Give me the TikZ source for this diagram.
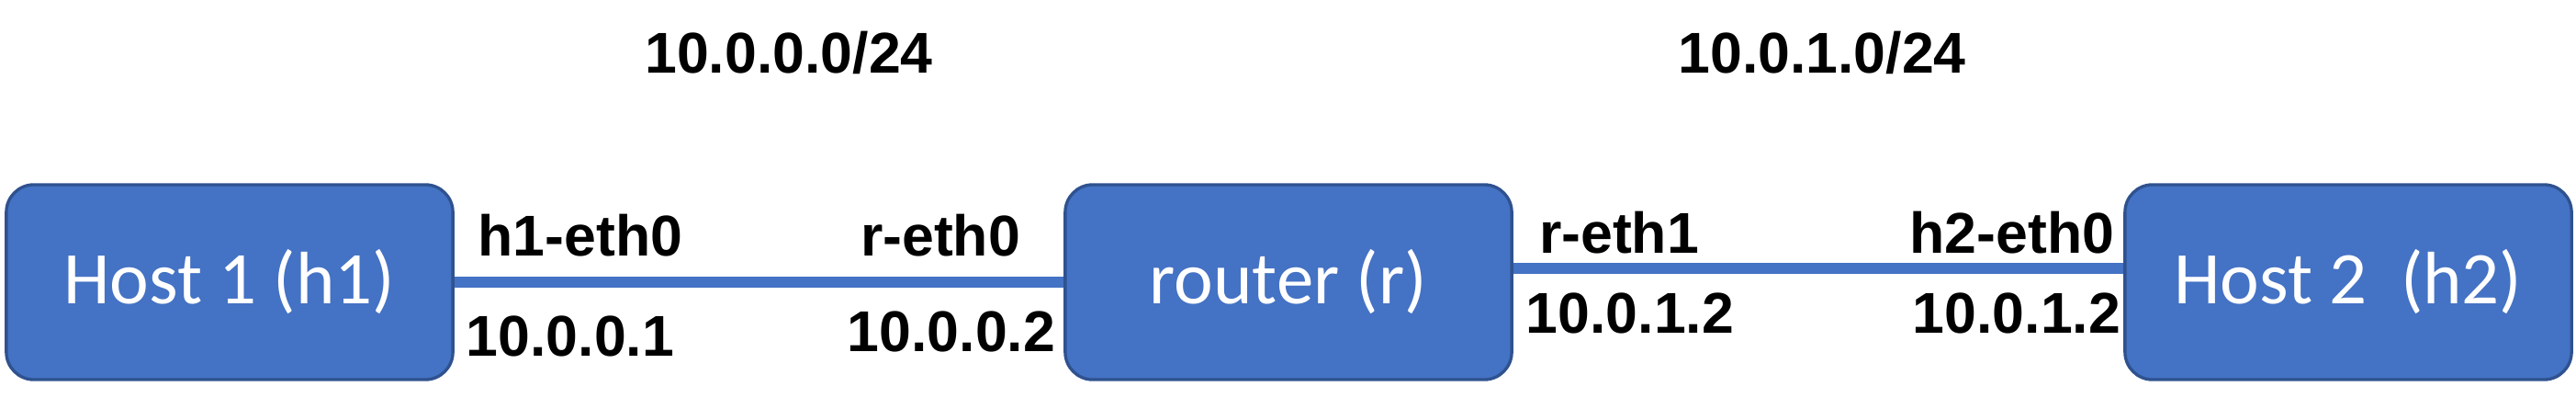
\documentclass[tikz,border=0pt]{standalone}
\usepackage{fontspec}
\setmainfont{Liberation Sans}
\newfontfamily\hostfont{Carlito}
\usetikzlibrary{positioning}
\definecolor{hostblue}{HTML}{4472C4}
\definecolor{hostedge}{HTML}{2F528F}
\newcommand{\scle}[0] {0.01}
\tikzset{
    hostbox/.style={shape=rectangle, rounded corners=0.3cm, fill=hostblue, draw=hostedge,
        line width=0.95pt, minimum width=4.86cm, minimum height=2.12cm, inner sep=0pt,
        text=white, font=\hostfont\fontsize{23}{27}\selectfont},
    link/.style={draw=hostblue, line width=3.6pt},
    iflabel/.style={anchor=base, inner sep=0pt, font=\bfseries\fontsize{17.8}{21}\selectfont}
}

\begin{document}
\begin{tikzpicture}
        \useasboundingbox (0,0) rectangle (\scle*2805, \scle*444);
        %the three machines
        \node[hostbox] (h1) at (\scle*250, \scle*137)     {Host 1 (h1)};
        \node[hostbox] (r) at (\scle*1403, \scle*137)     {router (r)};
        \node[hostbox] (h2) at (\scle*2557, \scle*137)     {Host 2\ \ (h2)};
        %networks
        \node[iflabel] (n0) at (\scle*859, \scle*364)     {10.0.0.0/24};
        \node[iflabel] (n1) at (\scle*1984, \scle*364)     {10.0.1.0/24};
        %interfaces of the first link
        \node[iflabel] (h1_eth0) at (\scle*632, \scle*166)     {h1-eth0};
        \node[iflabel] (r_eth0) at (\scle*1024, \scle*166)     {r-eth0};
        \node[iflabel] (ip_h1) at (\scle*621, \scle*57)     {10.0.0.1};
        \node[iflabel] (ip_r0) at (\scle*1036, \scle*62)     {10.0.0.2};
        %interfaces of the second link
        \node[iflabel] (r_eth1) at (\scle*1763, \scle*169)     {r-eth1};
        \node[iflabel] (h2_eth0) at (\scle*2191, \scle*169)     {h2-eth0};
        \node[iflabel] (ip_r1) at (\scle*1775, \scle*82)     {10.0.1.2};
        \node[iflabel] (ip_h2) at (\scle*2196, \scle*82)     {10.0.1.2};
        %connections between
        \path[link] (h1) -- (r);
        \path[link] ([yshift=0.15cm]r.east) -- ([yshift=0.15cm]h2.west);
    \end{tikzpicture}
\end{document}
